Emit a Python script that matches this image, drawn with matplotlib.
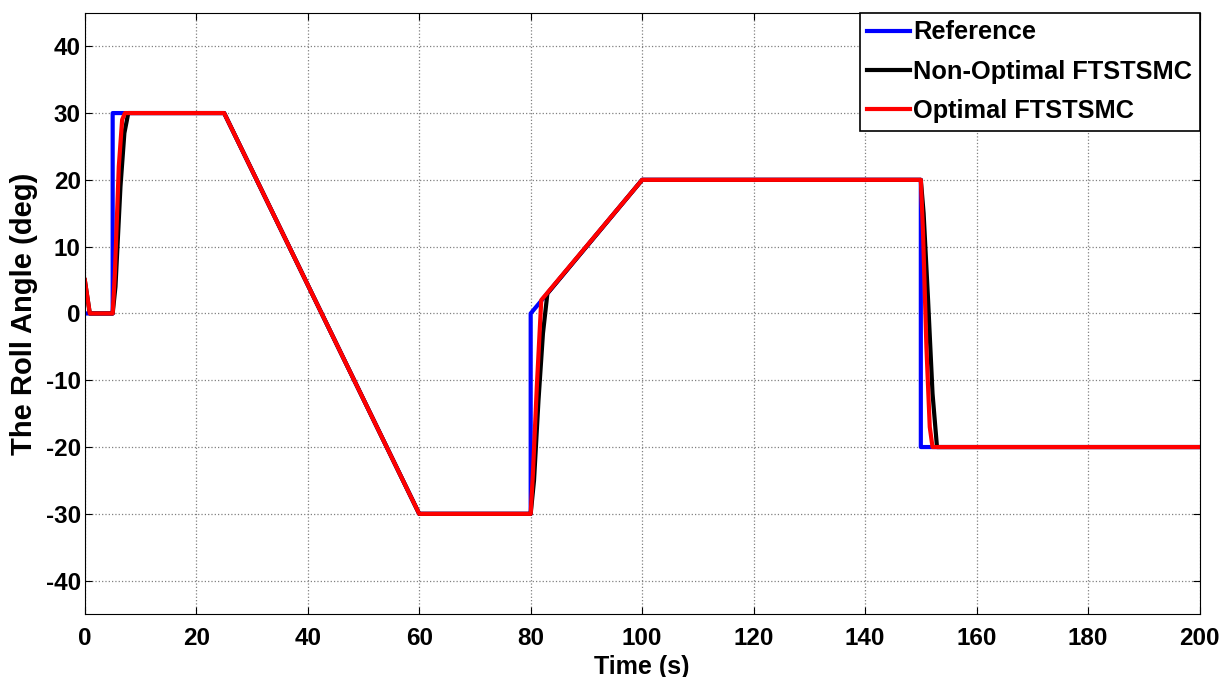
import matplotlib
matplotlib.use('Agg')
import matplotlib.pyplot as plt

plt.rcParams['font.family'] = ['Liberation Sans', 'DejaVu Sans']
plt.rcParams['font.weight'] = 'bold'
plt.rcParams['axes.unicode_minus'] = False

# reference roll angle (deg)
t_ref = [0, 5, 5, 25, 60, 80, 80, 100, 150, 150, 200]
y_ref = [0, 0, 30, 30, -30, -30, 0, 20, 20, -20, -20]

# non-optimal FTSTSMC response
t_non = [0, 0.9, 5, 5.5, 6.4, 7.1, 7.8, 25, 60, 80, 80.6, 81.4, 82.2, 83, 100,
         150, 150.5, 151.3, 152.1, 152.9, 200]
y_non = [5, 0, 0, 4, 19, 27, 30, 30, -30, -30, -25, -13, -3, 3, 20,
         20, 15, 2, -12, -20, -20]

# optimal FTSTSMC response
t_opt = [0, 0.9, 5, 5.4, 6.1, 6.7, 7.2, 25, 60, 80, 80.4, 81.1, 81.9, 100,
         150, 150.4, 151.0, 151.6, 152.1, 200]
y_opt = [5, 0, 0, 6, 22, 29, 30, 30, -30, -30, -24, -11, 2, 20,
         20, 12, -5, -17, -20, -20]

fig = plt.figure(figsize=(12.29, 6.77), dpi=100)
ax = fig.add_axes([0.069, 0.093, 0.907, 0.888])

ax.plot(t_ref, y_ref, color='#0000ff', lw=3, label='Reference')
ax.plot(t_non, y_non, color='black', lw=3, label='Non-Optimal FTSTSMC')
ax.plot(t_opt, y_opt, color='#ff0000', lw=3, label='Optimal FTSTSMC')

ax.set_xlim(0, 200)
ax.set_ylim(-45, 45)
ax.set_xticks(range(0, 201, 20))
ax.set_yticks(range(-40, 41, 10))
ax.grid(True, linestyle=':', color='#808080', lw=0.9)
ax.tick_params(direction='in', top=True, right=True, labelsize=17.5, length=5)
ax.tick_params(axis='x', pad=9)
ax.tick_params(axis='y', pad=3)
for lab in ax.get_xticklabels() + ax.get_yticklabels():
    lab.set_fontweight('bold')

ax.set_xlabel('Time (s)', fontsize=18, fontweight='bold', va='top')
ax.xaxis.set_label_coords(0.5, -0.068)
ax.set_ylabel('The Roll Angle (deg)', fontsize=21, fontweight='bold')
ax.yaxis.set_label_coords(-0.042, 0.5)

leg = ax.legend(loc='upper right', fontsize=18.3, fancybox=False, framealpha=1,
                edgecolor='black', handlelength=1.7, handletextpad=0.1,
                borderpad=0.3, labelspacing=0.6, borderaxespad=0)
leg.get_frame().set_linewidth(1.2)
for txt in leg.get_texts():
    txt.set_fontweight('bold')

fig.savefig('out.png', dpi=100)
